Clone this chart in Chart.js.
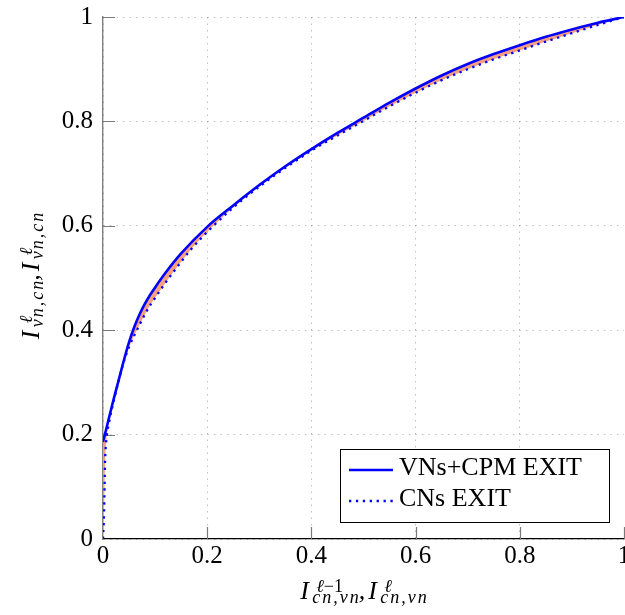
<!DOCTYPE html>
<html>
<head>
<meta charset="utf-8">
<script src="https://cdn.jsdelivr.net/npm/chart.js@4.4.0/dist/chart.umd.min.js"></script>
<style>
html,body{margin:0;padding:0;background:#fff;overflow:hidden}
canvas{display:block}
</style>
</head>
<body>
<canvas id="c" width="625" height="615"></canvas>
<script>
// ---- data ----
const xTickValues = [0, 0.2, 0.4, 0.6, 0.8, 1];
const xTickLabels = ['0', '0.2', '0.4', '0.6', '0.8', '1'];
const yTickValues = [0, 0.2, 0.4, 0.6, 0.8, 1];
const yTickLabels = ['0', '0.2', '0.4', '0.6', '0.8', '1'];
const seriesNames = ['VNs+CPM EXIT', 'CNs EXIT'];

// VNs+CPM EXIT curve (solid)
const vnX = [0, 0.005, 0.01, 0.02, 0.03, 0.04, 0.05, 0.06, 0.07, 0.08, 0.09, 0.1, 0.12, 0.15, 0.2, 0.25, 0.3, 0.35, 0.4, 0.45, 0.5, 0.55, 0.6, 0.65, 0.7, 0.75, 0.8, 0.85, 0.9, 0.95, 1];
const vnY = [0.186, 0.206, 0.226, 0.266, 0.304, 0.342, 0.377, 0.406, 0.430, 0.450, 0.467, 0.482, 0.510, 0.547, 0.598, 0.639, 0.678, 0.714, 0.747, 0.778, 0.807, 0.836, 0.863, 0.888, 0.910, 0.929, 0.946, 0.962, 0.976, 0.989, 1.0];

// CNs EXIT curve (dotted)
const cnX = [0, 0.002, 0.003, 0.004, 0.006, 0.012, 0.02, 0.03, 0.04, 0.05, 0.065, 0.084, 0.1, 0.12, 0.14, 0.17, 0.21, 0.25, 0.3, 0.35, 0.4, 0.45, 0.5, 0.55, 0.6, 0.65, 0.7, 0.75, 0.8, 0.85, 0.9, 0.95, 1];
const cnY = [0, 0.05, 0.10, 0.15, 0.185, 0.225, 0.262, 0.303, 0.340, 0.368, 0.400, 0.437, 0.462, 0.491, 0.518, 0.556, 0.598, 0.635, 0.675, 0.711, 0.744, 0.773, 0.801, 0.829, 0.855, 0.879, 0.900, 0.919, 0.936, 0.953, 0.969, 0.985, 1.0];

// axis titles (math-style: base, superscript segments, subscript)
const xTitleParts = [
  {base: 'I', sup: [['ℓ', true], ['−1', false]], sub: 'cn,vn'},
  {base: 'I', sup: [['ℓ', true]], sub: 'cn,vn'}
];
const yTitleParts = [
  {base: 'I', sup: [['ℓ', true]], sub: 'vn,cn'},
  {base: 'I', sup: [['ℓ', true]], sub: 'vn,cn'}
];

const BLUE = '#0000ff';
const FILL = 'rgb(246,160,128)';
const SERIF = '"Liberation Serif", "Times New Roman", serif';

// ---- helpers for math-like titles ----
function drawMath(ctx, groups, cx, by) {
  const baseFont = 'italic 26px ' + SERIF;
  const smallIt = 'italic 18px ' + SERIF;
  const smallUp = '18px ' + SERIF;
  const subSpacing = 2;
  const layout = (x0, doDraw) => {
    let x = x0;
    groups.forEach((g, gi) => {
      ctx.font = baseFont;
      if (doDraw) ctx.fillText(g.base, x, by);
      let sx = x + 16;
      g.sup.forEach(([t, it]) => {
        ctx.font = it ? smallIt : smallUp;
        if (doDraw) ctx.fillText(t, sx, by - 6.5);
        sx += ctx.measureText(t).width;
      });
      ctx.font = smallIt;
      let bx = x + 12;
      for (const ch of g.sub) {
        if (doDraw) ctx.fillText(ch, bx, by + 4);
        bx += ctx.measureText(ch).width + subSpacing;
      }
      bx -= subSpacing;
      let end = Math.max(sx, bx);
      if (gi < groups.length - 1) {
        ctx.font = baseFont;
        if (doDraw) ctx.fillText(',', end, by);
        end += ctx.measureText(',').width + 3;
      }
      x = end;
    });
    return x - x0;
  };
  ctx.textAlign = 'left';
  ctx.textBaseline = 'alphabetic';
  const w = layout(0, false);
  layout(cx - w / 2, true);
}

const decor = {
  id: 'decor',
  beforeDatasetsDraw(chart) {
    const {ctx, chartArea: a, scales: {x, y}} = chart;
    ctx.save();
    ctx.strokeStyle = '#7a7a7a';
    ctx.lineWidth = 1.2;
    ctx.beginPath();
    xTickValues.forEach(v => {
      if (v === 0) return;
      const px = Math.round(x.getPixelForValue(v)) + 0.5;
      ctx.moveTo(px, a.bottom);
      ctx.lineTo(px, a.bottom - 12);
    });
    yTickValues.forEach(v => {
      if (v === 0) return;
      const py = Math.round(y.getPixelForValue(v)) + 0.5;
      ctx.moveTo(a.left, py);
      ctx.lineTo(a.left + 12, py);
    });
    ctx.stroke();
    ctx.restore();
  },
  afterDraw(chart) {
    const {ctx, chartArea: a} = chart;
    ctx.save();
    ctx.fillStyle = '#000';
    drawMath(ctx, xTitleParts, (a.left + a.right) / 2, 598.5);
    ctx.save();
    ctx.translate(38.5, (a.top + a.bottom) / 2 - 2);
    ctx.rotate(-Math.PI / 2);
    drawMath(ctx, yTitleParts, 0, 0);
    ctx.restore();

    // legend
    const bw = 269, bh = 73;
    const bx = Math.round(a.right - 15 - bw), by = Math.round(a.bottom - 17 - bh);
    ctx.fillStyle = '#fff';
    ctx.fillRect(bx, by, bw, bh);
    ctx.strokeStyle = '#000';
    ctx.lineWidth = 1;
    ctx.strokeRect(bx + 0.5, by + 0.5, bw, bh);
    chart.data.datasets.forEach((ds, i) => {
      const ly = by + 21 + i * 31;
      ctx.save();
      ctx.strokeStyle = ds.borderColor;
      ctx.lineWidth = ds.borderWidth;
      ctx.setLineDash(ds.borderDash || []);
      ctx.beginPath();
      ctx.moveTo(bx + 9, ly);
      ctx.lineTo(bx + 53, ly);
      ctx.stroke();
      ctx.restore();
      ctx.fillStyle = '#000';
      ctx.font = '26px ' + SERIF;
      ctx.textAlign = 'left';
      ctx.textBaseline = 'middle';
      ctx.fillText(ds.label, bx + 59, ly - 2);
    });
    ctx.restore();
  }
};

const tickFont = {family: SERIF, size: 25};

new Chart(document.getElementById('c'), {
  type: 'scatter',
  data: {
    datasets: [
      {
        label: seriesNames[0],
        data: vnX.map((v, i) => ({x: v, y: vnY[i]})),
        showLine: true,
        borderColor: BLUE,
        borderWidth: 2.6,
        pointRadius: 0,
        cubicInterpolationMode: 'monotone',
        fill: '+1',
        backgroundColor: FILL
      },
      {
        label: seriesNames[1],
        data: cnX.map((v, i) => ({x: v, y: cnY[i]})),
        showLine: true,
        borderColor: BLUE,
        borderWidth: 2.3,
        borderDash: [2.3, 4.6],
        pointRadius: 0,
        cubicInterpolationMode: 'monotone',
        fill: false
      }
    ]
  },
  options: {
    responsive: false,
    devicePixelRatio: 1,
    animation: false,
    events: [],
    layout: {padding: {left: 0, right: 1, top: 17, bottom: 0}},
    plugins: {
      legend: {display: false},
      tooltip: {enabled: false},
      filler: {drawTime: 'beforeDatasetsDraw'}
    },
    scales: {
      x: {
        type: 'linear', min: 0, max: 1,
        afterBuildTicks: s => { s.ticks = xTickValues.map(v => ({value: v})); },
        ticks: {
          callback: (v, i) => xTickLabels[i],
          font: tickFont, color: '#000', padding: 2, maxRotation: 0, autoSkip: false
        },
        grid: {
          color: c => (c.tick && c.tick.value === 1) ? 'rgba(0,0,0,0)' : 'rgba(0,0,0,0.25)',
          lineWidth: 1, drawTicks: false
        },
        border: {display: true, color: '#000', width: 1.2, dash: [1.5, 5]},
        afterFit: s => { s.height = 76; s.paddingLeft = 0; s.paddingRight = 0; s.paddingTop = 0; s.paddingBottom = 0; }
      },
      y: {
        type: 'linear', min: 0, max: 1,
        afterBuildTicks: s => { s.ticks = yTickValues.map(v => ({value: v})); },
        ticks: {
          callback: (v, i) => yTickLabels[i],
          font: tickFont, color: '#000', padding: 10, autoSkip: false
        },
        grid: {color: 'rgba(0,0,0,0.25)', lineWidth: 1, drawTicks: false},
        border: {display: true, color: '#808080', width: 1.4, dash: [1.5, 5]},
        afterFit: s => { s.width = 103; s.paddingLeft = 0; s.paddingRight = 0; s.paddingTop = 0; s.paddingBottom = 0; }
      }
    }
  },
  plugins: [decor]
});
</script>
</body>
</html>
